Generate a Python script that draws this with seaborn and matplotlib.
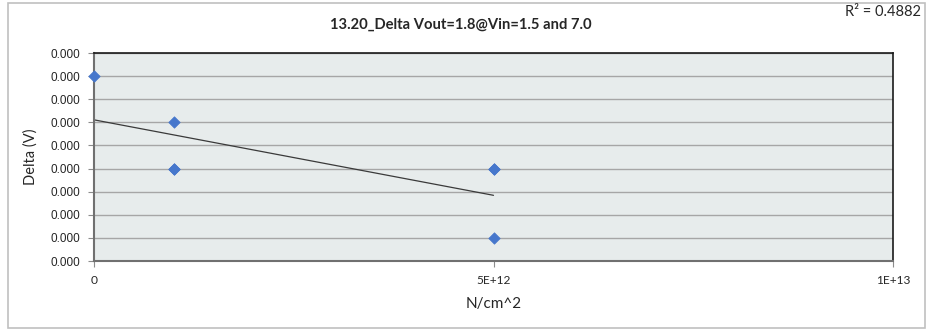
import numpy as np
import pandas as pd
import seaborn as sns
import matplotlib.pyplot as plt
from matplotlib.ticker import FormatStrFormatter
from matplotlib.patches import Rectangle

# data (duplicates overlap at x=1E+12 and x=5E+12)
dose = [0.0, 1e12, 1e12, 1e12, 5e12, 5e12, 5e12]
delta_v = [0.00040, 0.00030, 0.00020, 0.00020, 0.00020, 0.00020, 0.00005]
x_ticks = [0.0, 5e12, 1e13]
x_ticklabels = ["0", "5E+12", "1E+13"]
y_step = 0.00005
y_max = 0.00045
title = "13.20_Delta Vout=1.8@Vin=1.5 and 7.0"

df = pd.DataFrame({"N/cm^2": dose, "Delta (V)": delta_v})

sns.set_style("white")
plt.rcParams['font.family'] = ['Liberation Sans', 'DejaVu Sans']

fig = plt.figure(figsize=(9.28, 3.32), dpi=100)
ax = fig.add_axes([94/928, 1 - 261/332, 799/928, 208/332])
ax.set_facecolor('#E7ECEC')

# trendline (linear fit over the data range)
sns.regplot(data=df, x="N/cm^2", y="Delta (V)", scatter=False, ci=None, truncate=True,
            color='#3a3a3a', line_kws=dict(lw=0.9), ax=ax)
sns.scatterplot(data=df, x="N/cm^2", y="Delta (V)", marker='D', s=34, color='#4677CC',
                edgecolor='#4677CC', linewidth=0.5, ax=ax, zorder=5, clip_on=False)

r2 = np.corrcoef(dose, delta_v)[0, 1] ** 2

ax.set_xlim(0, 1e13)
ax.set_ylim(0, y_max)
ax.set_xticks(x_ticks)
ax.set_xticklabels(x_ticklabels, family='Lato', fontsize=8.6)
ax.set_yticks(np.arange(0, y_max + y_step / 2, y_step))
ax.yaxis.set_major_formatter(FormatStrFormatter('%.3f'))
ax.tick_params(axis='y', labelsize=8.5, length=4, width=0.8, color='#8c8c8c', pad=6, left=True)
ax.tick_params(axis='x', length=4, width=0.8, color='#8c8c8c', pad=6, bottom=True)

ax.grid(axis='y', color='#a6a6a6', lw=1)
ax.set_axisbelow(True)
for side in ['top', 'right']:
    ax.spines[side].set_color('#1a1a1a')
    ax.spines[side].set_linewidth(1.2)
for side in ['left', 'bottom']:
    ax.spines[side].set_color('#707070')
    ax.spines[side].set_linewidth(1.5)

ax.set_xlabel("N/cm^2", family='Lato', fontsize=11)
ax.set_ylabel("Delta (V)", family='Lato', fontsize=10.5)
ax.xaxis.set_label_coords(0.5, -0.175)
ax.yaxis.set_label_coords(-0.071, 0.5)

fig.text(0.497, 1 - 25/332, title, ha='center', va='center', family='Lato',
         fontweight='bold', fontsize=10.6)
fig.text(1 - 7/928, 1 - 12/332, "R² = %.4f" % r2, ha='right', va='center',
         family='Lato', fontsize=10.5)

fig.patches.append(Rectangle((8/928, 4/332), 917/928, 325/332, transform=fig.transFigure,
                             fill=False, edgecolor='#c0c0c0', lw=1.2))

fig.savefig('out.png', dpi=100)
